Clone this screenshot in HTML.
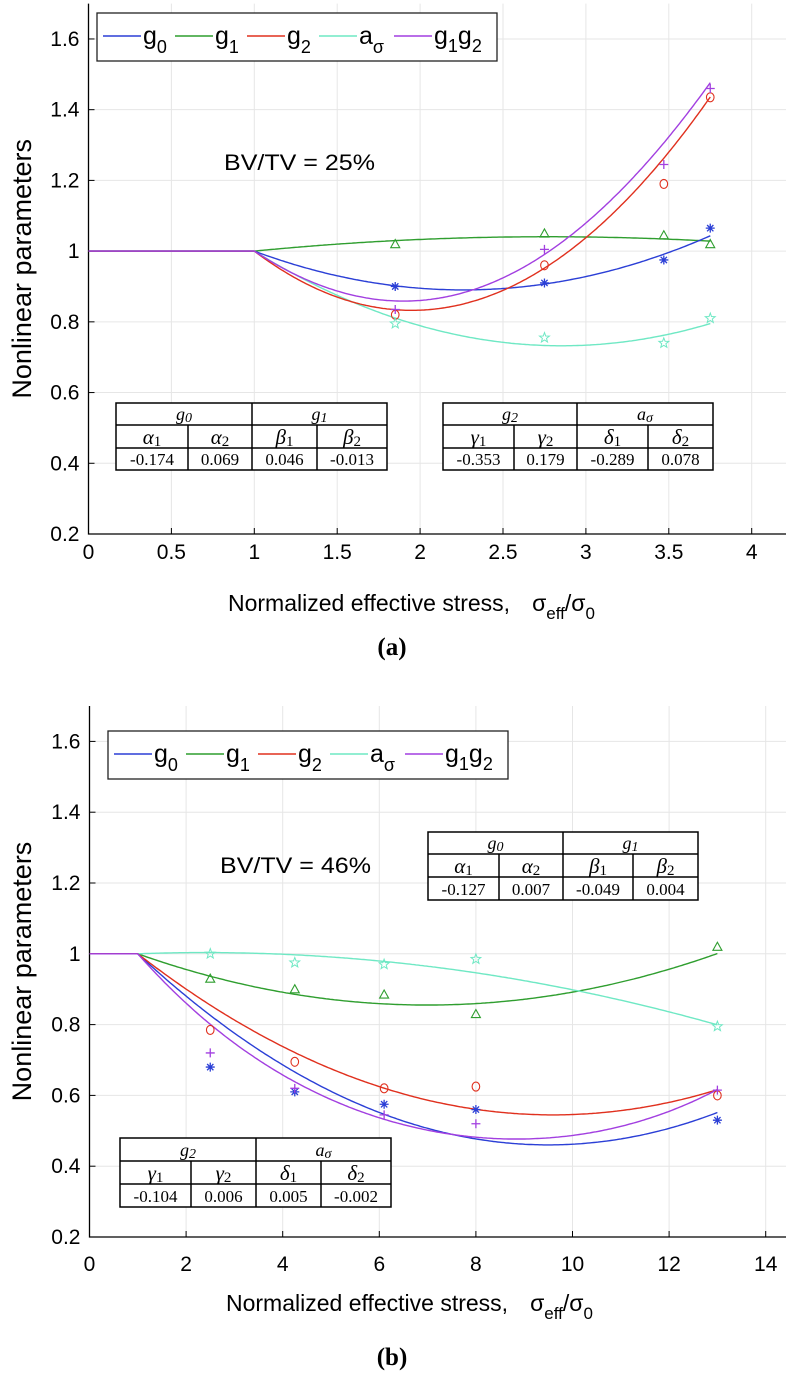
<!DOCTYPE html>
<html><head><meta charset="utf-8">
<style>
body{margin:0;background:#fff;}
svg{display:block;}
text{font-family:"Liberation Sans Narrow","Liberation Sans",sans-serif;}
.serif{font-family:"Liberation Serif",serif;}
</style></head>
<body>
<svg id="fig" width="786" height="1373" viewBox="0 0 786 1373" xmlns="http://www.w3.org/2000/svg"></svg>
<script>
// ---------- data: plot (a) ----------
const aXPoints = [1.85, 2.75, 3.47, 3.75];
const aG0 = [0.90, 0.91, 0.975, 1.065];
const aG1 = [1.02, 1.05, 1.045, 1.02];
const aG2 = [0.82, 0.96, 1.19, 1.435];
const aAs = [0.795, 0.755, 0.74, 0.81];
const aG1G2 = [0.835, 1.005, 1.245, 1.46];
const aCoefG0 = [-0.174, 0.069];
const aCoefG1 = [0.046, -0.013];
const aCoefG2 = [-0.353, 0.186];
const aCoefAs = [-0.289, 0.078];
const aXTicks = [0, 0.5, 1, 1.5, 2, 2.5, 3, 3.5, 4];
const aXTickLabels = ["0","0.5","1","1.5","2","2.5","3","3.5","4"];
// ---------- data: plot (b) ----------
const bXPoints = [2.5, 4.25, 6.1, 8, 13];
const bG0 = [0.68, 0.61, 0.575, 0.56, 0.53];
const bG1 = [0.93, 0.90, 0.885, 0.83, 1.02];
const bG2 = [0.785, 0.695, 0.62, 0.625, 0.60];
const bAs = [1.0, 0.975, 0.97, 0.985, 0.795];
const bG1G2 = [0.72, 0.62, 0.545, 0.52, 0.615];
const bCoefG0 = [-0.127, 0.00747];
const bCoefG1 = [-0.0483, 0.00403];
const bCoefG2 = [-0.1058, 0.00615];
const bCoefAs = [0.005, -0.00181];
const bXTicks = [0, 2, 4, 6, 8, 10, 12, 14];
const bXTickLabels = ["0","2","4","6","8","10","12","14"];
// shared y ticks
const yTicks = [0.2, 0.4, 0.6, 0.8, 1, 1.2, 1.4, 1.6];
const yTickLabels = ["0.2","0.4","0.6","0.8","1","1.2","1.4","1.6"];

const NS = "http://www.w3.org/2000/svg";
const svg = document.getElementById('fig');
function mk(tag, attrs, parent, txt){
  const e = document.createElementNS(NS, tag);
  for (const k in attrs) e.setAttribute(k, attrs[k]);
  if (txt !== undefined) e.textContent = txt;
  (parent||svg).appendChild(e);
  return e;
}
const COL = {g0:"#2b3fd6", g1:"#2f9e2f", g2:"#e0301e", as:"#6fe8c4", g1g2:"#a23fe0"};

function marker(g, type, cx, cy, color){
  const s = 4.5;
  let el;
  if (type === 'ast'){
    el = mk('path', {d:`M${cx-s},${cy}H${cx+s}M${cx},${cy-s}V${cy+s}M${cx-s*0.7},${cy-s*0.7}L${cx+s*0.7},${cy+s*0.7}M${cx-s*0.7},${cy+s*0.7}L${cx+s*0.7},${cy-s*0.7}`, stroke:color, 'stroke-width':1.3, fill:'none'}, g);
  } else if (type === 'tri'){
    el = mk('path', {d:`M${cx},${cy-s}L${cx+s},${cy+s*0.8}L${cx-s},${cy+s*0.8}Z`, stroke:color, 'stroke-width':1.1, fill:'none'}, g);
  } else if (type === 'circ'){
    el = mk('ellipse', {cx:cx, cy:cy, rx:3.8, ry:4.5, stroke:color, 'stroke-width':1.1, fill:'none'}, g);
  } else if (type === 'star'){
    let d=''; for(let i=0;i<10;i++){const r=i%2?2.2:5.2; const a=-Math.PI/2+i*Math.PI/5; d+=(i?'L':'M')+(cx+r*Math.cos(a)).toFixed(1)+','+(cy+r*Math.sin(a)).toFixed(1);} d+='Z';
    el = mk('path', {d:d, stroke:color, 'stroke-width':1, fill:'none'}, g);
  } else {
    el = mk('path', {d:`M${cx-s},${cy}H${cx+s}M${cx},${cy-s}V${cy+s}`, stroke:color, 'stroke-width':1.3, fill:'none'}, g);
  }
  
  
}

function quad(c, x){ if (x <= 1) return 1; const u = x-1; return 1 + c[0]*u + c[1]*u*u; }

function drawPlot(P){
  const g = mk('g', {});
  
  
  const sx = v => P.x0 + v*P.kx;
  const sy = v => P.yBase - (v-0.2)*P.ky;
  const right = 786, top = sy(1.7), bottom = sy(0.2);
  P.xTicks.forEach(t=>{ if(t>0){ const l=mk('line',{x1:sx(t),x2:sx(t),y1:top,y2:bottom,stroke:'#e6e6e6','stroke-width':1},g);   }});
  yTicks.forEach(t=>{ if(t>0.2){ const l=mk('line',{x1:P.x0,x2:right,y1:sy(t),y2:sy(t),stroke:'#e6e6e6','stroke-width':1},g);   }});
  const ax = mk('path',{d:`M${P.x0},${top}V${bottom}H${right}`,stroke:'#000','stroke-width':1.3,fill:'none'},g);
   
  P.xTicks.forEach((t,i)=>{
    mk('line',{x1:sx(t),x2:sx(t),y1:bottom,y2:bottom-6,stroke:'#000','stroke-width':1},g);
    const tx = mk('text',{x:sx(t),y:P.xTickY,'text-anchor':'middle','font-size':21},g,P.xTickLabels[i]);
     
  });
  yTicks.forEach((t,i)=>{
    mk('line',{x1:P.x0,x2:P.x0+6,y1:sy(t),y2:sy(t),stroke:'#000','stroke-width':1},g);
    const tx = mk('text',{x:P.x0-9,y:sy(t)+7,'text-anchor':'end','font-size':21},g,yTickLabels[i]);
     
  });
  const yt = mk('text',{x:0,y:0,'text-anchor':'middle','font-size':27,transform:`translate(31,${sy(0.95)}) rotate(-90)`,style:'font-family:"Liberation Sans",sans-serif'},g,'Nonlinear parameters');
   
  const xt = mk('text',{x:P.xlabX,y:P.xlabY,'font-size':23},g);
   
  mk('tspan',{},xt,'Normalized effective stress,');
  mk('tspan',{dx:22},xt,'σ');
  mk('tspan',{dy:8,'font-size':17},xt,'eff');
  mk('tspan',{dy:-8},xt,'/σ');
  mk('tspan',{dy:8,'font-size':17},xt,'0');
  const pl = mk('text',{x:P.panelX,y:P.panelY,'text-anchor':'middle','font-size':25,'font-weight':'bold',class:'serif'},g,P.panel);
   
  const bv = mk('text',{x:P.bvX,y:P.bvY,'font-size':22,textLength:151,lengthAdjust:'spacingAndGlyphs'},g,P.bv);
   
  const xmax = P.xPts[P.xPts.length-1];
  function curve(fn, color, nm){
    let d='';
    for(let i=0;i<=300;i++){const x=xmax*i/300; d+=(i?'L':'M')+sx(x).toFixed(1)+','+sy(fn(x)).toFixed(1);}
    const p = mk('path',{d:d,stroke:color,'stroke-width':1.4,fill:'none'},g);
     
  }
  curve(x=>quad(P.cG1,x),COL.g1,'g1-fit-curve');
  curve(x=>quad(P.cAs,x),COL.as,'as-fit-curve');
  curve(x=>quad(P.cG0,x),COL.g0,'g0-fit-curve');
  curve(x=>quad(P.cG2,x),COL.g2,'g2-fit-curve');
  curve(x=>quad(P.cG1,x)*quad(P.cG2,x),COL.g1g2,'g1g2-fit-curve');
  P.xPts.forEach((x,i)=>{
    marker(g,'ast',sx(x),sy(P.g0[i]),COL.g0);
    marker(g,'tri',sx(x),sy(P.g1[i]),COL.g1);
    marker(g,'circ',sx(x),sy(P.g2[i]),COL.g2);
    marker(g,'star',sx(x),sy(P.as[i]),COL.as);
    marker(g,'plus',sx(x),sy(P.g1g2[i]),COL.g1g2);
  });
  const lg = mk('g',{},g);
   
  mk('rect',{x:P.legX,y:P.legY,width:400,height:48,fill:'#fff',stroke:'#222','stroke-width':1.3},lg);
  const entries=[['g','0',COL.g0],['g','1',COL.g1],['g','2',COL.g2],['a','σ',COL.as],['g1g2','',COL.g1g2]];
  const offs=[6,78,150,222,297];
  entries.forEach((e,i)=>{
    const ex=P.legX+offs[i];
    const le = mk('g',{},lg);
     
    mk('line',{x1:ex,x2:ex+38,y1:P.legY+23,y2:P.legY+23,stroke:e[2],'stroke-width':1.4},le);
    const t = mk('text',{x:ex+40,y:P.legY+31,'font-size':25},le);
    if(e[0]==='g1g2'){ mk('tspan',{},t,'g'); mk('tspan',{dy:8,'font-size':18},t,'1'); mk('tspan',{dy:-8},t,'g'); mk('tspan',{dy:8,'font-size':18},t,'2'); }
    else { mk('tspan',{},t,e[0]); mk('tspan',{dy:9,'font-size':18},t,e[1]); }
  });
  P.tables.forEach(T=>{
    const tg = mk('g',{},g);
     
    const [x1,c1,c2,c3,x2] = T.xs; const [y0,y1,y2,y3]=T.ys;
    mk('rect',{x:x1,y:y0,width:x2-x1,height:y3-y0,fill:'#fff',stroke:'#000','stroke-width':1.5},tg);
    mk('path',{d:`M${x1},${y1}H${x2}M${x1},${y2}H${x2}M${c2},${y0}V${y3}M${c1},${y1}V${y3}M${c3},${y1}V${y3}`,stroke:'#000','stroke-width':1.5,fill:'none'},tg);
    const cx=[(x1+c1)/2,(c1+c2)/2,(c2+c3)/2,(c3+x2)/2];
    const h=[(x1+c2)/2,(c2+x2)/2];
    T.heads.forEach((hd,i)=>{ const t=mk('text',{x:h[i],y:y1-5,'text-anchor':'middle','font-size':18,'font-style':'italic',class:'serif'},tg,hd[0]); mk('tspan',{'font-size':14,dy:2},t,hd[1]); });
    T.syms.forEach((s,i)=>{ const t=mk('text',{x:cx[i],y:y2-4,'text-anchor':'middle','font-size':21,'font-style':'italic',class:'serif'},tg,s[0]); mk('tspan',{'font-size':15,dy:2,'font-style':'normal'},t,s[1]); });
    T.vals.forEach((v,i)=>{ mk('text',{x:cx[i],y:y3-5,'text-anchor':'middle','font-size':17,class:'serif'},tg,v); });
  });
}

drawPlot({name:'plot-a', x0:88.5, kx:165.8, yBase:534, ky:353.6, xTicks:aXTicks, xTickLabels:aXTickLabels, xTickY:559,
  xlabX:228, xlabY:611, panel:'(a)', panelX:392, panelY:655, bv:'BV/TV = 25%', bvX:224, bvY:170,
  xPts:aXPoints, g0:aG0, g1:aG1, g2:aG2, as:aAs, g1g2:aG1G2, cG0:aCoefG0, cG1:aCoefG1, cG2:aCoefG2, cAs:aCoefAs,
  legX:97, legY:13,
  tables:[{xs:[116,188,252,317,387], ys:[403,425,448,470], heads:[['g','0'],['g','1']], syms:[['α','1'],['α','2'],['β','1'],['β','2']], vals:['-0.174','0.069','0.046','-0.013']},
          {xs:[443,514,577,648,713], ys:[403,425,448,470], heads:[['g','2'],['a','σ']], syms:[['γ','1'],['γ','2'],['δ','1'],['δ','2']], vals:['-0.353','0.179','-0.289','0.078']}]
});
drawPlot({name:'plot-b', x0:89.5, kx:48.3, yBase:1237, ky:354, xTicks:bXTicks, xTickLabels:bXTickLabels, xTickY:1271,
  xlabX:226, xlabY:1311, panel:'(b)', panelX:392, panelY:1365, bv:'BV/TV = 46%', bvX:220, bvY:873,
  xPts:bXPoints, g0:bG0, g1:bG1, g2:bG2, as:bAs, g1g2:bG1G2, cG0:bCoefG0, cG1:bCoefG1, cG2:bCoefG2, cAs:bCoefAs,
  legX:108, legY:731,
  tables:[{xs:[428,499,563,633,698], ys:[832,854,877,900], heads:[['g','0'],['g','1']], syms:[['α','1'],['α','2'],['β','1'],['β','2']], vals:['-0.127','0.007','-0.049','0.004']},
          {xs:[120,191,256,321,391], ys:[1138,1161,1184,1207], heads:[['g','2'],['a','σ']], syms:[['γ','1'],['γ','2'],['δ','1'],['δ','2']], vals:['-0.104','0.006','0.005','-0.002']}]
});
</script>
</body></html>
